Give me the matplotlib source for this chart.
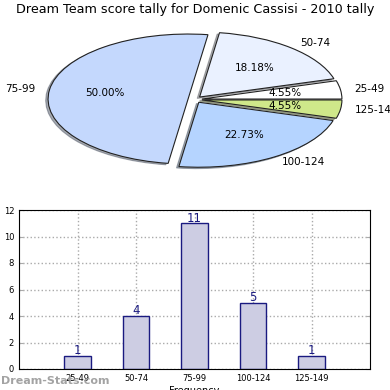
import matplotlib.pyplot as plt

ranges = ['25-49', '50-74', '75-99', '100-124', '125-149']
counts = [1, 4, 11, 5, 1]
pie_colors = ['#ffffff', '#eaf1ff', '#c4d8fd', '#b5d4ff', '#cfe88a']

fig = plt.figure(figsize=(3.9, 3.9), dpi=100)
W, H = 390.0, 390.0

fig.text(0.5, 1 - 10 / H, 'Dream Team score tally for Domenic Cassisi - 2010 tally',
         ha='center', va='center', fontsize=9.2)

# pie, squashed into an ellipse
ax1 = fig.add_axes([41 / W, 1 - 171 / H, 308 / W, 143 / H])
wedges, texts, autotexts = ax1.pie(
    counts, labels=ranges, colors=pie_colors, explode=[0.05] * 5,
    autopct='%.2f%%', pctdistance=0.6, labeldistance=1.1, startangle=0,
    shadow={'ox': -0.012, 'oy': -0.015, 'shade': 0.6},
    wedgeprops={'edgecolor': '#222222', 'linewidth': 0.8},
    textprops={'fontsize': 7.5})
ax1.set_aspect('auto')
ax1.set_xlim(-1.1, 1.1)
ax1.set_ylim(-1.1, 1.1)
ax1.axis('off')

# bar chart
ax2 = fig.add_axes([19 / W, 1 - 369 / H, 351 / W, 159 / H])
pos = list(range(1, len(ranges) + 1))
bars = ax2.bar(pos, counts, width=0.45, color='#cdcde3', edgecolor='#1a1a80', linewidth=1, zorder=2)
for x, v in zip(pos, counts):
    ax2.text(x, v - 0.1, str(v), ha='center', va='bottom', color='#1a1a80', fontsize=8.5)
ax2.set_xlim(0, 6)
ax2.set_ylim(0, 12)
ax2.set_xticks(pos)
ax2.set_xticklabels(ranges, fontsize=6)
ax2.set_yticks(range(0, 13, 2))
ax2.tick_params(axis='y', labelsize=6, direction='in', length=3, color='#aaaaaa', right=True)
ax2.tick_params(axis='x', direction='in', length=0)
ax2.grid(True, linestyle=':', color='#aaaaaa', linewidth=1, zorder=0)
ax2.set_axisbelow(True)
ax2.set_xlabel('Frequency', fontsize=7, labelpad=2)
ax2.set_ylabel('Dream Team Tally', fontsize=7, labelpad=6)

fig.text(1 / W, 1 - 381 / H, 'Dream-Stats.com', ha='left', va='center',
         fontsize=8, fontweight='bold', color='#999999', alpha=0.9)

fig.savefig('out.png', dpi=100)
